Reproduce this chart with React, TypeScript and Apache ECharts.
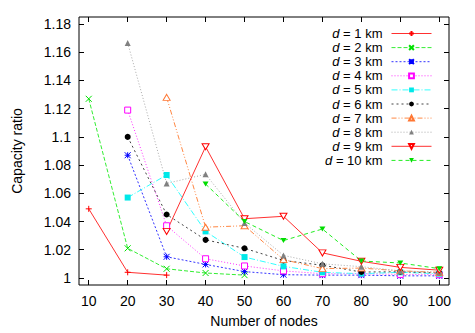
import React, { useEffect, useRef } from 'react';
import * as echarts from 'echarts';

const nodes = [10, 20, 30, 40, 50, 60, 70, 80, 90, 100];
const xTicks = [10, 20, 30, 40, 50, 60, 70, 80, 90, 100];
const yTicks = [1, 1.02, 1.04, 1.06, 1.08, 1.1, 1.12, 1.14, 1.16, 1.18];

const names = ['d = 1 km', 'd = 2 km', 'd = 3 km', 'd = 4 km', 'd = 5 km', 'd = 6 km', 'd = 7 km', 'd = 8 km', 'd = 9 km', 'd = 10 km'];

const d1 = [1.049, 1.004, 1.002, null, null, null, null, null, null, null];
const d2 = [1.127, 1.021, 1.0065, 1.0035, 1.002, null, null, null, null, null];
const d3 = [null, 1.087, 1.015, 1.0096, 1.0045, 1.0023, 1.002, 1.002, 1.0015, 1.0015];
const d4 = [null, 1.119, 1.037, 1.0136, 1.0085, 1.005, 1.003, 1.003, 1.0025, 1.0023];
const d5 = [null, 1.057, 1.073, 1.033, 1.0148, 1.0082, 1.004, 1.003, 1.004, 1.003];
const d6 = [null, 1.1, 1.045, 1.027, 1.021, 1.0124, 1.009, 1.0042, 1.0044, 1.0035];
const d7 = [null, null, 1.128, 1.036, 1.037, 1.013, 1.0066, 1.007, 1.005, 1.004];
const d8 = [null, 1.1666, 1.067, 1.0735, 1.039, 1.016, 1.01, 1.008, 1.005, 1.004];
const d9 = [null, null, 1.033, 1.093, 1.042, 1.0437, 1.0178, 1.0118, 1.0075, 1.0055];
const d10 = [null, null, null, 1.0666, 1.04, 1.0265, 1.0347, 1.012, 1.0106, 1.0066];

const seriesData = [d1, d2, d3, d4, d5, d6, d7, d8, d9, d10];
const colors = ['#ff0000', '#00e000', '#0000ff', '#ff00ff', '#00e8e8', '#000000', '#ff7733', '#808080', '#ff0000', '#00dd00'];
const lineColors = ['#ff3030', '#33ee33', '#3333ff', '#ff33ff', '#33ffff', '#444444', '#ff8844', '#aaaaaa', '#ff3030', '#22ee22'];
const dashes: any[] = ['solid', [4, 2], [2, 2], [1, 2], [6, 2, 1, 2], [2, 3], [5, 2, 1, 2, 1, 2], [1, 2], 'solid', [4, 3]];
const symbols = [
  'path://M5,0L5,10M0,5L10,5',
  'path://M0,0L10,10M10,0L0,10',
  'path://M5,0L5,10M0,5L10,5M0,0L10,10M10,0L0,10',
  'path://M0,0L10,0L10,10L0,10Z',
  'rect',
  'circle',
  'path://M5,0L10,8.66L0,8.66Z',
  'triangle',
  'path://M0,0L10,0L5,8.66Z',
  'path://M0,0L10,0L5,8.66Z',
];
const symbolSizes: any[] = [6, 6, 6, 6, 6, 6, [7, 6], 6, [7, 6], [6, 5]];
const whiteFill = [false, false, false, true, false, false, true, false, true, false];
const strokeOnly = [true, true, true, true, false, false, true, false, true, false];

const FONT = '"Liberation Sans", Arial, Helvetica, sans-serif';

export default function App() {
  const ref = useRef<HTMLDivElement>(null);
  useEffect(() => {
    if (!ref.current) return;
    const chart = echarts.init(ref.current, null, { renderer: 'svg' });
    const series = seriesData.map((vals, i) => ({
      name: names[i],
      type: 'line',
      xAxisIndex: 0,
      yAxisIndex: 0,
      data: nodes.map((n, k) => [n, vals[k]]),
      connectNulls: false,
      symbol: symbols[i],
      symbolSize: symbolSizes[i],
      showSymbol: true,
      lineStyle: { color: lineColors[i], width: 1, type: dashes[i] },
      itemStyle: {
        color: whiteFill[i] ? '#ffffff' : colors[i],
        borderColor: colors[i],
        borderWidth: strokeOnly[i] ? 1 : 0,
      },
      emphasis: { disabled: true },
    }));
    chart.setOption({
      animation: false,
      textStyle: { fontFamily: FONT },
      grid: { left: 79, right: 26, top: 17, bottom: 47, show: true, borderColor: '#000', borderWidth: 1, backgroundColor: 'transparent' },
      legend: {
        orient: 'vertical',
        right: 38,
        top: 22,
        align: 'right',
        itemWidth: 40,
        itemHeight: 6,
        itemGap: 1.1,
        selectedMode: false,
        data: names,
        lineStyle: { width: 1 },
        formatter: (n: string) => '{i|d}' + n.slice(1),
        textStyle: {
          fontFamily: FONT,
          fontSize: 13,
          color: '#000',
          lineHeight: 13,
          padding: [0, 4, 0, 0],
          rich: { i: { fontStyle: 'italic', fontFamily: FONT, fontSize: 13, lineHeight: 13, color: '#000' } },
        },
      },
      xAxis: [
        {
          type: 'value',
          min: 7.5,
          max: 102.5,
          position: 'bottom',
          name: 'Number of nodes',
          nameLocation: 'middle',
          nameGap: 29,
          nameTextStyle: { fontFamily: FONT, fontSize: 14, color: '#000' },
          axisLine: { show: false },
          axisTick: { show: true, inside: true, length: 5, lineStyle: { color: '#000' }, customValues: xTicks },
          axisLabel: { show: true, fontFamily: FONT, fontSize: 14, color: '#000', margin: 9, customValues: xTicks },
          splitLine: { show: false },
        },
        {
          type: 'value',
          min: 7.5,
          max: 102.5,
          position: 'top',
          axisLine: { show: false },
          axisTick: { show: true, inside: true, length: 5, lineStyle: { color: '#000' }, customValues: xTicks },
          axisLabel: { show: false },
          splitLine: { show: false },
        },
      ],
      yAxis: [
        {
          type: 'value',
          min: 0.995,
          max: 1.185,
          position: 'left',
          name: 'Capacity ratio',
          nameLocation: 'middle',
          nameGap: 55,
          nameTextStyle: { fontFamily: FONT, fontSize: 14, color: '#000' },
          axisLine: { show: false },
          axisTick: { show: true, inside: true, length: 5, lineStyle: { color: '#000' }, customValues: yTicks },
          axisLabel: { show: true, fontFamily: FONT, fontSize: 14, color: '#000', margin: 8, customValues: yTicks },
          splitLine: { show: false },
        },
        {
          type: 'value',
          min: 0.995,
          max: 1.185,
          position: 'right',
          axisLine: { show: false },
          axisTick: { show: true, inside: true, length: 5, lineStyle: { color: '#000' }, customValues: yTicks },
          axisLabel: { show: false },
          splitLine: { show: false },
        },
      ],
      series,
    });
    return () => chart.dispose();
  }, []);
  return <div ref={ref} style={{ width: 475, height: 333, position: 'absolute', left: 0, top: 0, background: '#fff' }} />;
}
